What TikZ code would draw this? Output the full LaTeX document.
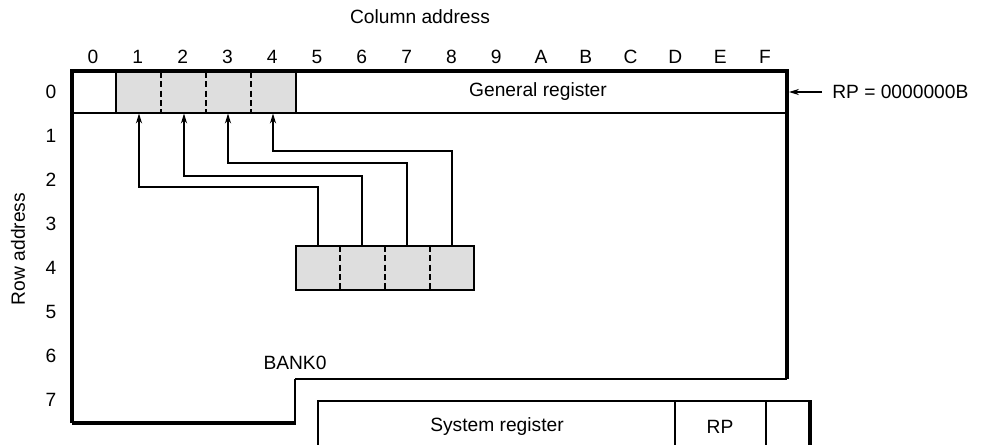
\documentclass[tikz,border=0pt]{standalone}
\usepackage{fontspec}
\setmainfont{Liberation Sans}
\usetikzlibrary{arrows.meta}
\begin{document}
\begin{tikzpicture}[x=0.75pt,y=-0.75pt,
  font=\fontsize{14.4}{16}\selectfont,
  heavy/.style={line width=2.3pt},
  light/.style={line width=0.8pt},
  mid/.style={line width=1.2pt},
  dashline/.style={line width=1.2pt,dash pattern=on 4.5pt off 2.5pt},
  shadebox/.style={fill=black!13},
  link/.style={line width=1pt,-{Stealth[length=7.5pt,width=4.6pt]}},
  lbl/.style={inner sep=0pt}]
\useasboundingbox (0,0) rectangle (981,444);
% shaded areas
\fill[shadebox] (116,71) rectangle (296,113);
\fill[shadebox] (296,246) rectangle (474,290);
% main bank outline
\draw[heavy] (72,423) -- (72,71) -- (787,71) -- (787,379);
\draw[light] (787,379) -- (295,379);
\draw[mid] (295,379) -- (295,423);
\draw[heavy] (72,423) -- (295.5,423);
\draw[light] (72,113) -- (787,113);
\draw[mid] (116,71) -- (116,113) (296,71) -- (296,113);
\foreach \x in {161,206,251} \draw[dashline] (\x,72) -- (\x,113);
% lower source box
\draw[mid] (296,246) rectangle (474,290);
\foreach \x in {340,385,430} \draw[dashline] (\x,246) -- (\x,290);
% connector endpoints
\foreach \i/\sx/\tx in {1/318/139,2/362/184,3/407/228,4/452/273}{
  \coordinate (s\i) at (\sx,246);
  \coordinate (t\i) at (\tx,113.5);
}
\draw[link] (s1) |- (139,187) -- (t1);
\draw[link] (s2) |- (184,176) -- (t2);
\draw[link] (s3) |- (228,163) -- (t3);
\draw[link] (s4) |- (273,151) -- (t4);
% system register
\draw[light] (318,446) -- (318,401) -- (810,401);
\draw[heavy] (810,400) -- (810,446);
\draw[light] (675,401) -- (675,446) (766,401) -- (766,446);
\node[lbl] (sys) at (497,427) {System register};
\node[lbl] (rpcell) at (720,427) {RP};
% labels
\node[lbl] (coladdr) at (420,17) {Column address};
\node[lbl,rotate=90] (rowaddr) at (18,249) {Row address};
\foreach \c [count=\i from 0] in {0,1,2,3,4,5,6,7,8,9,A,B,C,D,E,F}
  \node[lbl] (col\i) at (93+44.8*\i,57) {\c};
\foreach \r in {0,...,7}
  \node[lbl] (row\r) at (51,92+44*\r) {\r};
\node[lbl] (gen) at (538,92) {General register};
\node[lbl] (bank) at (295,363) {BANK0};
\node[lbl,anchor=west] (rp) at (832,92) {RP = 0000000B};
\coordinate (rptip) at (789,92);
\draw[link] (822,92) -- (rptip);
\end{tikzpicture}
\end{document}
